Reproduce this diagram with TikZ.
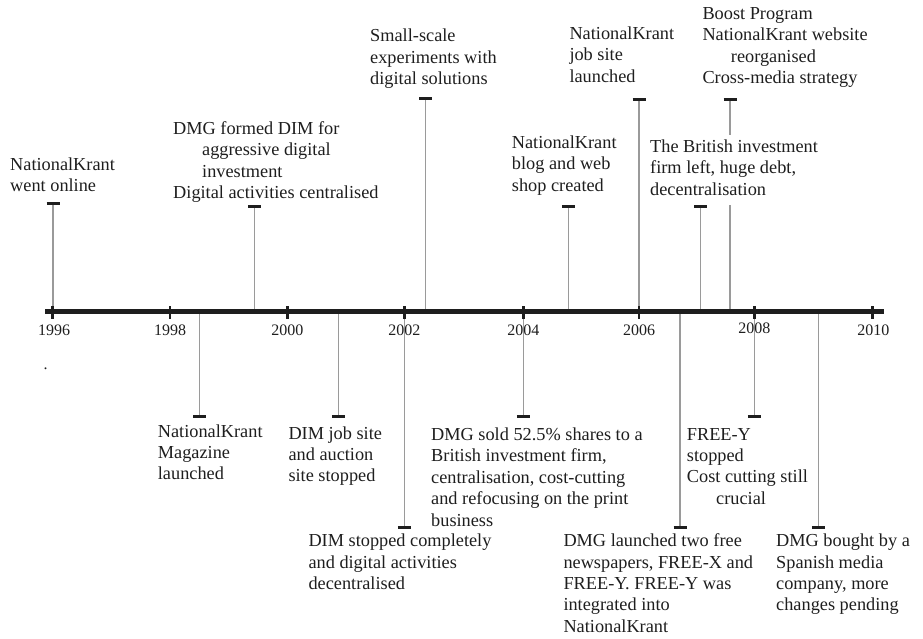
\documentclass[tikz,border=0pt]{standalone}
\usepackage{fontspec}
\setmainfont{Liberation Serif}
\definecolor{ink}{HTML}{1E1E1E}
\definecolor{barc}{HTML}{1E1E1E}
\definecolor{connc}{HTML}{9A9A9A}
\begin{document}
\begin{tikzpicture}[x=1pt,y=-1pt,
  lbl/.style={anchor=north west, inner sep=0pt, align=left, font=\fontsize{18.3}{21.4}\selectfont, text=ink},
  yr/.style={anchor=base, inner sep=0pt, font=\fontsize{16}{19}\selectfont, text=ink},
  conn/.style={draw=connc, line width=1.2pt},
  endbar/.style={draw=barc, line width=3pt},
  axisline/.style={draw=barc, line width=4.5pt},
  tickmark/.style={draw=barc, line width=2.8pt}]
\useasboundingbox (0,0) rectangle (923,638);
% axis reference
\coordinate (ax) at (0,311.7);
\coordinate (axs) at (45,311.7);
\coordinate (axe) at (884,311.7);
% year ticks
\coordinate (y1996) at (52.7,311.7);
\coordinate (y1998) at (170,311.7);
\coordinate (y2000) at (287.3,311.7);
\coordinate (y2002) at (404.3,311.7);
\coordinate (y2004) at (523.3,311.7);
\coordinate (y2006) at (639,311.7);
\coordinate (y2008) at (754.3,311.7);
\coordinate (y2010) at (872.7,311.7);
% event end points
\coordinate (pA) at (53,203.3);
\coordinate (pB) at (254.7,206);
\coordinate (pC) at (425.7,98.3);
\coordinate (pD) at (639,99);
\coordinate (pE) at (730,99);
\coordinate (pF) at (568.3,206.7);
\coordinate (pG) at (700.7,206.7);
\coordinate (pH) at (199.7,416);
\coordinate (pI) at (338.3,416);
\coordinate (pJ) at (404.3,527.3);
\coordinate (pK) at (523.3,416);
\coordinate (pL) at (680,527.3);
\coordinate (pM) at (754.3,416);
\coordinate (pN) at (818.3,527.3);
% connectors
\foreach \p in {pA,pB,pC,pD,pE,pF,pG,pH,pI,pJ,pK,pL,pM,pN}
  \draw[conn] (\p) -- (\p |- ax);
% axis and ticks
\draw[axisline] (axs) -- (axe);
\foreach \t in {y1996,y1998,y2000,y2002,y2004,y2006,y2008,y2010}
  \draw[tickmark] ([yshift=-7.2pt]\t) -- ([yshift=6.2pt]\t);
% year labels
\node[yr] (l1996) at (54,335) {1996};
\node[yr] (l1998) at (170,335) {1998};
\node[yr] (l2000) at (287.3,335) {2000};
\node[yr] (l2002) at (404.3,335) {2002};
\node[yr] (l2004) at (523.3,335) {2004};
\node[yr] (l2006) at (639,335) {2006};
\node[yr] (l2008) at (754.3,333.5) {2008};
\node[yr] (l2010) at (873.3,335) {2010};
\node[yr] (dot) at (45.7,369) {.};
% event texts above
\node[lbl] (tA) at (10,155) {\strut NationalKrant\\went online};
\node[lbl] (tB) at (173,119.3) {\strut DMG formed DIM for\\\hspace*{29pt}aggressive digital\\\hspace*{29pt}investment\\Digital activities centralised};
\node[lbl] (tC) at (370,26.8) {\strut Small-scale\\experiments with\\digital solutions};
\node[lbl] (tD) at (569.3,24.3) {\strut NationalKrant\\job site\\launched};
\node[lbl] (tE) at (702.3,4.3) {\strut Boost Program\\NationalKrant website\\\hspace*{28.4pt}reorganised\\Cross-media strategy};
\node[lbl] (tF) at (511.7,133.3) {\strut NationalKrant\\blog and web\\shop created};
\node[lbl, fill=white, inner ysep=3pt] (tG) at (650,134.3) {\strut The British investment\\firm left, huge debt,\\decentralisation\strut};
% event texts below
\node[lbl] (tH) at (157.7,422) {\strut NationalKrant\\Magazine\\launched};
\node[lbl] (tI) at (288.3,424) {\strut DIM job site\\and auction\\site stopped};
\node[lbl] (tJ) at (308.3,531.5) {\strut DIM stopped completely\\and digital activities\\decentralised};
\node[lbl] (tK) at (431,425.3) {\strut DMG sold 52.5\% shares to a\\British investment firm,\\centralisation, cost-cutting\\and refocusing on the print\\business};
\node[lbl] (tL) at (563.3,531.5) {\strut DMG launched two free\\newspapers, FREE-X and\\FREE-Y. FREE-Y was\\integrated into\\NationalKrant};
\node[lbl] (tM) at (686.7,425) {\strut FREE-Y\\stopped\\Cost cutting still\\\hspace*{29.3pt}crucial};
\node[lbl] (tN) at (776,531.5) {\strut DMG bought by a\\Spanish media\\company, more\\changes pending};
% end bars
\foreach \p in {pA,pB,pC,pD,pE,pF,pG,pH,pI,pJ,pK,pL,pM,pN}
  \draw[endbar] ([xshift=-6.5pt]\p) -- ([xshift=6.5pt]\p);
\end{tikzpicture}
\end{document}
